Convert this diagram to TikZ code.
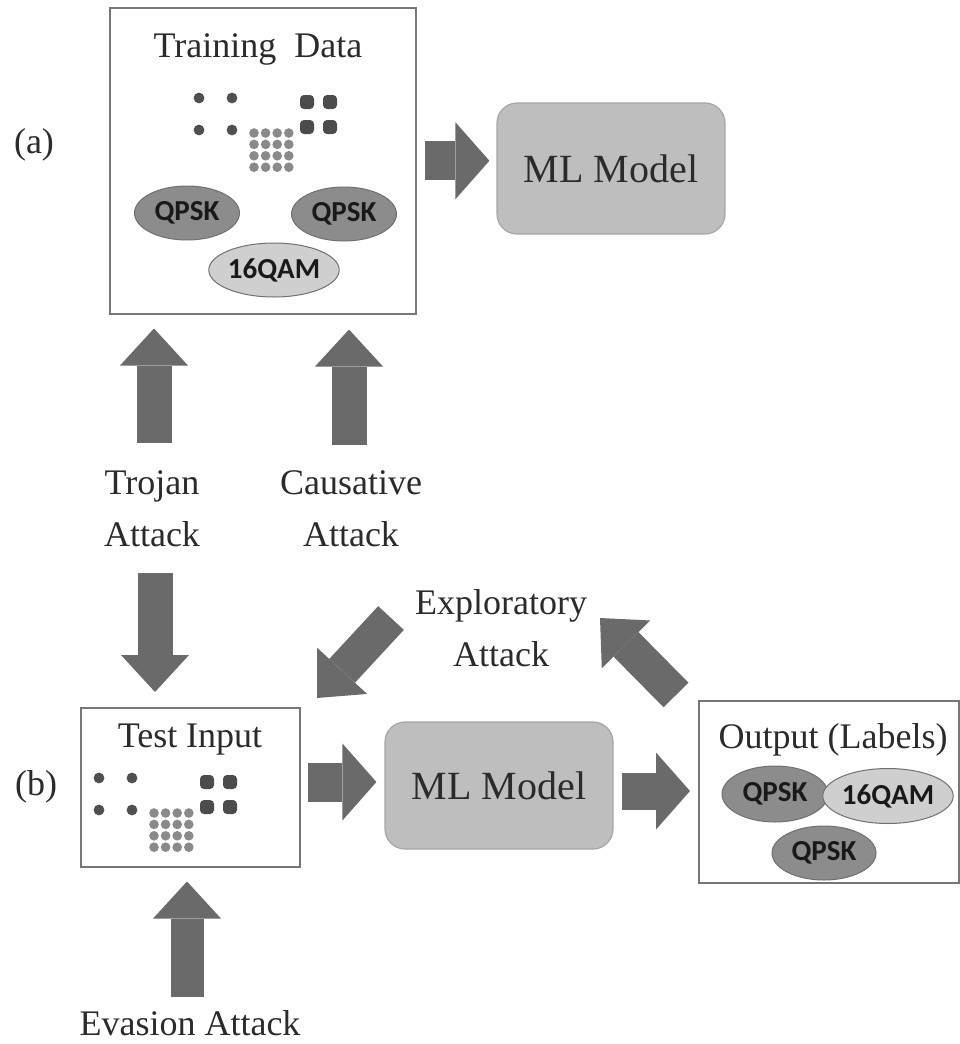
\documentclass[tikz,border=0pt]{standalone}
\usepackage{fontspec}
\setmainfont{Liberation Serif}
\newfontfamily\lblfont{Carlito}
\usetikzlibrary{arrows.meta,shapes.geometric}

\definecolor{arrowgray}{HTML}{6A6A6A}
\definecolor{framegray}{HTML}{777777}
\definecolor{modelfill}{HTML}{BEBEBE}
\definecolor{modeledge}{HTML}{A6A6A6}
\definecolor{qpskfill}{HTML}{8C8C8C}
\definecolor{qamfill}{HTML}{CFCFCF}
\definecolor{ellgray}{HTML}{707070}
\definecolor{dotdark}{HTML}{505050}
\definecolor{dotlight}{HTML}{8A8A8A}
\definecolor{inkgray}{HTML}{2B2B2B}

\tikzset{
  lbl/.style={font=\fontsize{36}{52}\selectfont, text=inkgray, inner sep=0pt, align=center},
  frame/.style={draw=framegray, line width=1.5pt, fill=white, inner sep=0pt, anchor=north west},
  model/.style={draw=modeledge, fill=modelfill, rounded corners=20pt, line width=1.2pt,
    minimum width=228pt, inner sep=0pt, text=inkgray, font=\fontsize{40}{48}\selectfont},
  qpsk/.style={ellipse, draw=ellgray, line width=1pt, fill=qpskfill, inner sep=0pt,
    minimum width=105pt, minimum height=54pt, text=black!90,
    font=\lblfont\bfseries\fontsize{29}{30}\selectfont},
  qam/.style={qpsk, fill=qamfill, minimum width=118pt},
  blockarrow/.style={draw=arrowgray, line width=35pt,
    -{Triangle[length=37pt,width=68pt,line width=0pt]}},
  wideblock/.style={draw=arrowgray, line width=39pt,
    -{Triangle[length=34pt,width=77pt,line width=0pt]}},
  constellation/.pic={
    % QPSK points
    \foreach \px/\py in {0/0,33/0,0/32,33/32}
      \fill[dotdark] (\px,\py) circle (5.4pt);
    % 4-point blobs
    \foreach \px/\py in {108/4,131/4,108/29,131/29}
      \fill[dotdark!95!black, rounded corners=4pt] (\px-7,\py-7) rectangle (\px+7,\py+7);
    % 16QAM grid
    \foreach \i in {0,...,3}
      \foreach \j in {0,...,3}
        \fill[dotlight] (55+\i*11.6,35+\j*11.4) circle (4.8pt);
  }
}

\begin{document}
\begin{tikzpicture}[x=1pt,y=-1pt]
\useasboundingbox (0,0) rectangle (960,1044);

% ---------- (a) training stage ----------
\node[lbl, anchor=base] (labA) at (34,153) {(a)};

\node[frame, minimum width=306pt, minimum height=306pt] (train) at (109,7) {};
\node[lbl, anchor=base] (trainTitle) at (258,57) {Training\ \ Data};
\pic at (199,98) {constellation};
\node[qpsk] (tq1) at (187,213) {QPSK};
\node[qpsk] (tq2) at (344,214) {QPSK};
\node[qam]  (tq3) at (274,270) {16QAM};

\node[model, minimum height=131pt] (mlA) at (611,168.5) {ML Model};

\draw[wideblock, shorten <=8pt, shorten >=7pt] (train.east) -- (train.east -| mlA.west);

% ---------- attacks on the training data ----------
\coordinate (trojTail) at (154,443);
\coordinate (causTail) at (349,445);
\draw[blockarrow, shorten >=14pt] (trojTail) -- (trojTail |- train.south);
\draw[blockarrow, shorten >=15pt] (causTail) -- (causTail |- train.south);

\node[lbl] (trojan) at (152,509) {Trojan\\Attack};
\node[lbl] (causative) at (351,509) {Causative\\Attack};

% ---------- (b) test stage ----------
\node[lbl, anchor=base] (labB) at (36,795) {(b)};

\node[frame, minimum width=219pt, minimum height=159pt] (test) at (80,707) {};
\node[lbl, anchor=base] (testTitle) at (190,747) {Test Input};
\pic at (99,778) {constellation};

\node[model, minimum height=127pt] (mlB) at (499,785.5) {ML Model};

\node[frame, minimum width=260pt, minimum height=182pt] (out) at (698,700) {};
\node[lbl, anchor=base] (outTitle) at (833,748) {Output\ (Labels)};
\node[qpsk, minimum width=106pt, minimum height=56pt] (oq1) at (775,794) {QPSK};
\node[qam, minimum width=116pt, minimum height=55pt] (oq2) at (888,796) {16QAM};
\node[qpsk, minimum width=104pt] (oq3) at (824,853) {QPSK};

\coordinate (downTail) at (155,573);
\draw[blockarrow, shorten >=15pt] (downTail) -- (downTail |- test.north);

\coordinate (inTail) at (308,782);
\draw[wideblock, shorten >=8pt] (inTail) -- (inTail -| mlB.west);

\coordinate (outTail) at (622,791);
\draw[wideblock, line width=37pt, shorten >=8pt] (outTail) -- (outTail -| out.west);

% ---------- exploratory attack loop ----------
\node[lbl] (explor) at (501,628) {Exploratory\\Attack};
\coordinate (expTail) at (676,695);
\coordinate (expHead) at (600,618);
\draw[blockarrow] (expTail) -- (expHead);
\coordinate (expTail2) at (391,618);
\coordinate (expHead2) at (317,698);
\draw[blockarrow] (expTail2) -- (expHead2);

% ---------- evasion attack ----------
\coordinate (evTail) at (187,997);
\draw[blockarrow, line width=33pt, shorten >=14pt] (evTail) -- (evTail |- test.south);
\node[lbl, anchor=base] (evasion) at (190,1035) {Evasion Attack};

\end{tikzpicture}
\end{document}
